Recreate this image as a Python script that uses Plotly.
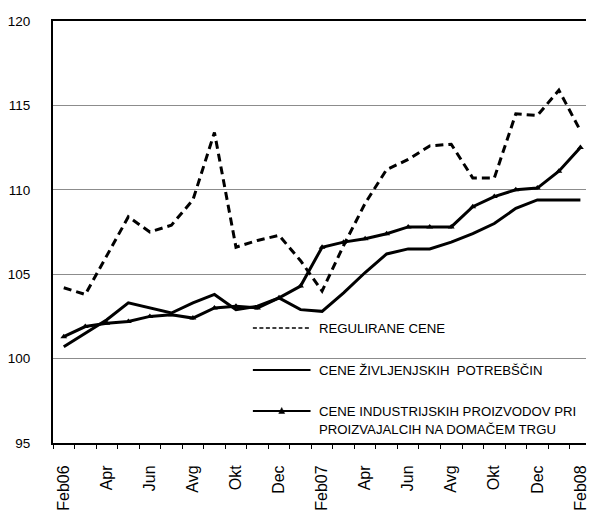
import plotly.graph_objects as go

# Monthly categories, Feb 2006 - Feb 2008
months = ["Feb06", "Mar06", "Apr06", "May06", "Jun06", "Jul06", "Avg06", "Sep06",
          "Okt06", "Nov06", "Dec06", "Jan07", "Feb07", "Mar07", "Apr07", "May07",
          "Jun07", "Jul07", "Avg07", "Sep07", "Okt07", "Nov07", "Dec07", "Jan08", "Feb08"]
tick_labels = ["Feb06", "", "Apr", "", "Jun", "", "Avg", "", "Okt", "", "Dec", "",
               "Feb07", "", "Apr", "", "Jun", "", "Avg", "", "Okt", "", "Dec", "", "Feb08"]

# Index values (2005 = 100)
regulirane = [104.2, 103.8, 106.1, 108.4, 107.5, 107.9, 109.4, 113.4, 106.6, 107.0,
              107.3, 105.8, 104.0, 106.7, 109.2, 111.2, 111.8, 112.6, 112.7, 110.7,
              110.7, 114.5, 114.4, 115.9, 113.5]
zivljenjske = [100.7, 101.5, 102.3, 103.3, 103.0, 102.7, 103.3, 103.8, 102.9, 103.1,
               103.6, 102.9, 102.8, 103.9, 105.1, 106.2, 106.5, 106.5, 106.9, 107.4,
               108.0, 108.9, 109.4, 109.4, 109.4]
industrijske = [101.3, 101.9, 102.1, 102.2, 102.5, 102.6, 102.4, 103.0, 103.1, 103.0,
                103.6, 104.3, 106.6, 106.9, 107.1, 107.4, 107.8, 107.8, 107.8, 109.0,
                109.6, 110.0, 110.1, 111.1, 112.5]

legend_names = ["REGULIRANE CENE",
                "CENE ŽIVLJENJSKIH  POTREBŠČIN",
                "CENE INDUSTRIJSKIH PROIZVODOV PRI",
                "PROIZVAJALCIH NA DOMAČEM TRGU"]
title_text = "indeks: 2005 = 100"

W, H = 589, 513
ML, MR, MT, MB = 53, 0, 21, 70
PW, PH = W - ML - MR, H - MT - MB

SANS = "Liberation Sans, Arial, sans-serif"


def px(x):
    return (x - ML) / PW


def py(y):
    return (H - MB - y) / PH


fig = go.Figure()

fig.add_trace(go.Scatter(
    x=months, y=regulirane, mode="lines", name=legend_names[0],
    line=dict(color="black", width=3, dash="8px,5px")))
fig.add_trace(go.Scatter(
    x=months, y=zivljenjske, mode="lines", name=legend_names[1],
    line=dict(color="black", width=3)))
fig.add_trace(go.Scatter(
    x=months, y=industrijske, mode="lines+markers", name=legend_names[2],
    line=dict(color="black", width=3),
    marker=dict(symbol="triangle-up", size=6, color="black")))

# Hand-placed key inside the plot area
key_x0, key_x1, key_tx = 254, 312, 318
key_rows = [328, 370, 411]
shapes = [
    dict(type="line", xref="paper", yref="paper",
         x0=px(key_x0), x1=px(key_x1), y0=py(key_rows[0]), y1=py(key_rows[0]),
         line=dict(color="black", width=1.5, dash="4px,2.5px")),
    dict(type="line", xref="paper", yref="paper",
         x0=px(key_x0), x1=px(key_x1), y0=py(key_rows[1]), y1=py(key_rows[1]),
         line=dict(color="black", width=2)),
    dict(type="line", xref="paper", yref="paper",
         x0=px(key_x0), x1=px(key_x1), y0=py(key_rows[2]), y1=py(key_rows[2]),
         line=dict(color="black", width=2)),
]
tx, ty = (key_x0 + key_x1) / 2, key_rows[2]
shapes.append(dict(
    type="path", xref="paper", yref="paper",
    path=f"M {px(tx - 3)} {py(ty + 2.5)} L {px(tx + 3)} {py(ty + 2.5)} L {px(tx)} {py(ty - 3.5)} Z",
    fillcolor="black", line=dict(color="black", width=0.5)))

annotations = []
for txt, yy in [(legend_names[0], key_rows[0]), (legend_names[1], key_rows[1]),
                (legend_names[2], key_rows[2]), (legend_names[3], key_rows[2] + 18)]:
    annotations.append(dict(
        text=txt, xref="paper", yref="paper", x=px(key_tx), y=py(yy),
        xanchor="left", yanchor="middle", showarrow=False,
        font=dict(family=SANS, size=13.2, color="black")))

annotations.append(dict(
    text=title_text, xref="paper", yref="paper", x=px(295), y=py(5),
    xanchor="center", yanchor="bottom", showarrow=False,
    font=dict(family=SANS, size=17, color="black")))

fig.update_layout(
    width=W, height=H,
    margin=dict(l=ML, r=MR, t=MT, b=MB, pad=0),
    paper_bgcolor="white", plot_bgcolor="white",
    showlegend=False,
    shapes=shapes, annotations=annotations,
    xaxis=dict(
        type="category", range=[-0.5, 24.26],
        tickmode="array", tickvals=months, ticktext=tick_labels,
        tickson="boundaries", ticks="outside", ticklen=4, tickwidth=1,
        tickcolor="black", tickangle=-90, ticklabelstandoff=14,
        tickfont=dict(family=SANS, size=16, color="black"),
        showline=True, linecolor="black", linewidth=2, mirror=True,
        showgrid=False, zeroline=False),
    yaxis=dict(
        range=[95, 120], tickmode="array", tickvals=[95, 100, 105, 110, 115, 120],
        ticks="", ticklabelstandoff=18,
        tickfont=dict(family=SANS, size=13.5, color="black"),
        showline=True, linecolor="black", linewidth=2, mirror=False,
        showgrid=True, gridcolor="#8c8c8c", gridwidth=1.3, zeroline=False),
)

fig.write_html("out.html")
